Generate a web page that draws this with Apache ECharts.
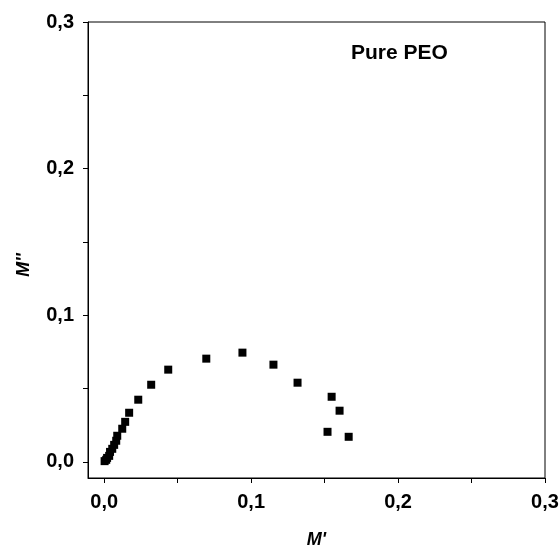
<!DOCTYPE html>
<html><head><meta charset="utf-8">
<script src="https://cdn.jsdelivr.net/npm/echarts@6/dist/echarts.min.js"></script>
<style>html,body{margin:0;padding:0;background:#fff}#c{width:560px;height:548px}</style>
</head><body><div id="c"></div>
<script>
// M' (real part) values
const mReal = [0.0003, 0.0014, 0.0020, 0.0034, 0.0040, 0.0055, 0.0068, 0.0082, 0.0089, 0.0123, 0.0143, 0.0170, 0.0232, 0.0320, 0.0436, 0.0695, 0.0941, 0.1152, 0.1316, 0.1548, 0.1602, 0.1520, 0.1664];
// M'' (imaginary part) values
const mImag = [0.0005, 0.0014, 0.0027, 0.0041, 0.0068, 0.0089, 0.0116, 0.0144, 0.0178, 0.0226, 0.0273, 0.0335, 0.0424, 0.0526, 0.0629, 0.0704, 0.0745, 0.0663, 0.0540, 0.0444, 0.0349, 0.0205, 0.0171];
const majorTicks = [0, 0.1, 0.2, 0.3];
const allTicks = [0, 0.05, 0.1, 0.15, 0.2, 0.25, 0.3];
const titleText = 'Pure PEO';

const fmt = v => v.toFixed(1).replace('.', ',');
const FONT = 'Liberation Sans, Arial, sans-serif';
const chart = echarts.init(document.getElementById('c'), null, {renderer: 'canvas'});
function axis(extra) {
  return Object.assign({
    type: 'value', min: -0.011, max: 0.3,
    splitLine: {show: false},
    axisLine: {show: true, onZero: false, lineStyle: {color: '#000', width: 1}},
    axisTick: {show: true, inside: false, length: 5, customValues: allTicks, lineStyle: {color: '#000', width: 1}},
    axisLabel: {customValues: majorTicks, formatter: fmt, color: '#000', fontFamily: FONT, fontWeight: 'bold', fontSize: 20, margin: 14},
    nameLocation: 'middle',
    nameTextStyle: {color: '#000', fontFamily: FONT, fontWeight: 'bold', fontStyle: 'italic', fontSize: 18}
  }, extra);
}
chart.setOption({
  animation: false,
  backgroundColor: '#fff',
  grid: {left: 88, right: 15, top: 22, bottom: 70, containLabel: false, outerBoundsMode: 'none', show: true, borderColor: '#000', borderWidth: 1, backgroundColor: 'transparent'},
  title: {text: titleText, left: 346, top: 38, textStyle: {color: '#000', fontFamily: FONT, fontWeight: 'bold', fontSize: 21}},
  xAxis: axis({name: "M'", nameGap: 53}),
  yAxis: axis({name: "M''", nameGap: 55, nameRotate: 90,
    nameTextStyle: {color: '#000', fontFamily: FONT, fontWeight: 'bold', fontStyle: 'italic', fontSize: 18, padding: [0, 30, 0, 0]}}),
  series: [{
    type: 'scatter', symbol: 'rect', symbolSize: 8,
    itemStyle: {color: '#000', opacity: 1},
    data: mReal.map((x, i) => [x, mImag[i]])
  }]
});
</script></body></html>
